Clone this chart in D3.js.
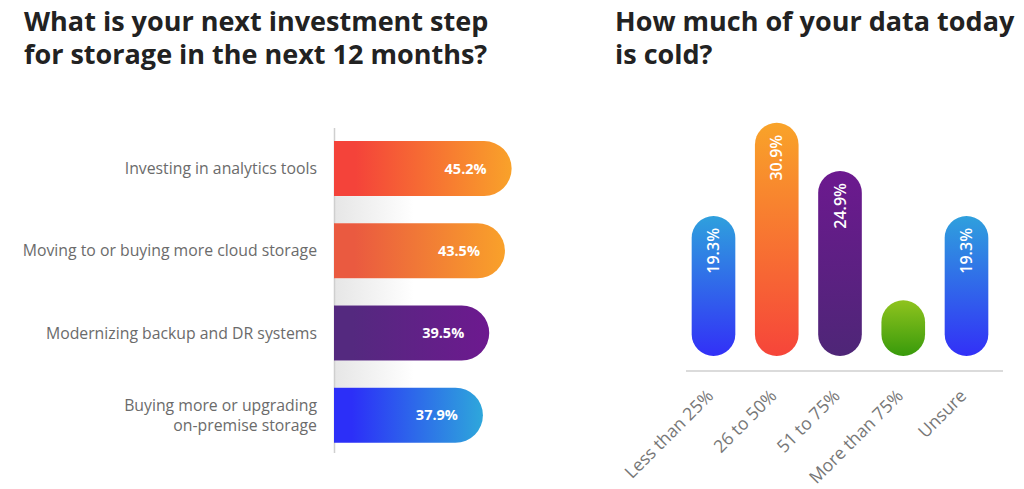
<!DOCTYPE html>
<html><head><meta charset="utf-8">
<script src="https://cdn.jsdelivr.net/npm/d3@7"></script>
<style>
html,body{margin:0;padding:0;background:#fff;}
svg{display:block;font-family:"Open Sans",sans-serif;}
</style></head><body>
<svg id="c" width="1024" height="489"></svg>
<script>
// ---- data ----
const stepCategories = ["Investing in analytics tools","Moving to or buying more cloud storage","Modernizing backup and DR systems","Buying more or upgrading|on-premise storage"];
const stepValues = [45.2, 43.5, 39.5, 37.9];
const coldCategories = ["Less than 25%","26 to 50%","51 to 75%","More than 75%","Unsure"];
const coldValues = [19.3, 30.9, 24.9, 8.8, 19.3];
const coldShowLabel = [true, true, true, false, true];

// ---- styles ----
const stepColors = [["#f4433a","#f9a22a"],["#ea5a40","#f9a12a"],["#54297f","#6d198f"],["#2c2ff8","#2ea7db"]];
const coldColors = [["#2fa0dd","#3230f7"],["#f9a329","#f6453a"],["#6c198f","#4e2677"],["#8fc31e","#389a0b"],["#2fa0dd","#3230f7"]];

const svg = d3.select("#c");
const defs = svg.append("defs");

// Titles
function title(x, lines){
  lines.forEach((l,i)=>svg.append("text").attr("x", x).attr("y", 31 + i*33)
    .attr("font-size", 27).attr("font-weight", 700).attr("fill", "#222").text(l));
}
title(24, ["What is your next investment step","for storage in the next 12 months?"]);
title(615, ["How much of your data today","is cold?"]);

// ---- Left chart ----
const x0 = 334;
const xs = d3.scaleLinear().domain([0, 50]).range([x0, x0 + 50*3.93]);
const ys = d3.scaleBand().domain(stepCategories).range([127.3, 456.5]).paddingInner(0.33).paddingOuter(0.167);
const bh = ys.bandwidth();

stepColors.forEach((c,i)=>{
  const g = defs.append("linearGradient").attr("id","lg"+i).attr("x1","0").attr("x2","1").attr("y1","0").attr("y2","0");
  g.append("stop").attr("offset","0.12").attr("stop-color",c[0]);
  g.append("stop").attr("offset","1").attr("stop-color",c[1]);
});
const sg = defs.append("linearGradient").attr("id","shadow").attr("x1","0").attr("x2","1");
sg.append("stop").attr("offset","0").attr("stop-color","#e6e6e6");
sg.append("stop").attr("offset","1").attr("stop-color","#ffffff");

// soft shading in gaps near axis
stepCategories.slice(0,-1).forEach((c,i)=>{
  const yTop = ys(c) + bh, yBot = ys(stepCategories[i+1]);
  svg.append("rect").attr("x", x0).attr("y", yTop).attr("width", 80).attr("height", yBot - yTop).attr("fill","url(#shadow)");
});

svg.append("line").attr("x1", x0+0.5).attr("x2", x0+0.5).attr("y1", 128).attr("y2", 453)
  .attr("stroke","#cfcfcf").attr("stroke-width",1.5);

function hbarPath(x, y, w, h){
  const r = h/2;
  return `M${x},${y}H${x+w-r}A${r},${r} 0 0 1 ${x+w-r},${y+h}H${x}Z`;
}
stepCategories.forEach((c,i)=>{
  const y = ys(c), w = xs(stepValues[i]) - x0;
  svg.append("path").attr("d", hbarPath(x0, y, w, bh)).attr("fill", `url(#lg${i})`);
  svg.append("text").attr("x", xs(stepValues[i]) - 25).attr("y", y + bh/2).attr("dy","0.35em")
    .attr("text-anchor","end").attr("font-size",14.5).attr("font-weight",700).attr("fill","#fff")
    .text(stepValues[i].toFixed(1) + "%");
  const parts = c.split("|");
  const t = svg.append("text").attr("text-anchor","end").attr("font-size",15.8).attr("fill","#6b6b6b");
  parts.forEach((p,k)=>{
    t.append("tspan").attr("x", 317).attr("y", y + bh/2 + (k - (parts.length-1)/2)*20).attr("dy","0.35em").text(p);
  });
});

// ---- Right chart ----
const baseY = 371;
const yc = d3.scaleLinear().domain([0, 35]).range([baseY, baseY - 35*8.03]);
const xc = d3.scaleBand().domain(coldCategories).range([682, 998]).paddingInner(0.31).paddingOuter(0.153);
const bw = xc.bandwidth();
const barBottom = baseY - 15;

coldColors.forEach((c,i)=>{
  const g = defs.append("linearGradient").attr("id","cg"+i).attr("x1","0").attr("x2","0").attr("y1","0").attr("y2","1");
  g.append("stop").attr("offset","0").attr("stop-color",c[0]);
  g.append("stop").attr("offset","1").attr("stop-color",c[1]);
});

svg.append("line").attr("x1", 686).attr("x2", 1003).attr("y1", baseY).attr("y2", baseY)
  .attr("stroke","#cfcfcf").attr("stroke-width",1.5);

coldCategories.forEach((c,i)=>{
  const x = xc(c), top = yc(coldValues[i]);
  svg.append("rect").attr("x", x).attr("y", top).attr("width", bw).attr("height", barBottom - top)
    .attr("rx", bw/2).attr("ry", bw/2).attr("fill", `url(#cg${i})`);
  if (coldShowLabel[i]) {
    const cx = x + bw/2, ty = top + 12;
    svg.append("text").attr("transform", `translate(${cx},${ty}) rotate(-90)`)
      .attr("text-anchor","end").attr("dy","0.35em").attr("font-size",16).attr("font-weight",600).attr("fill","#fff")
      .text(coldValues[i].toFixed(1) + "%");
  }
  svg.append("text").attr("transform", `translate(${x + bw/2 + 1},${baseY + 26}) rotate(-45)`)
    .attr("text-anchor","end").attr("font-size",17.5).attr("fill","#777").text(c);
});
</script>
</body></html>
